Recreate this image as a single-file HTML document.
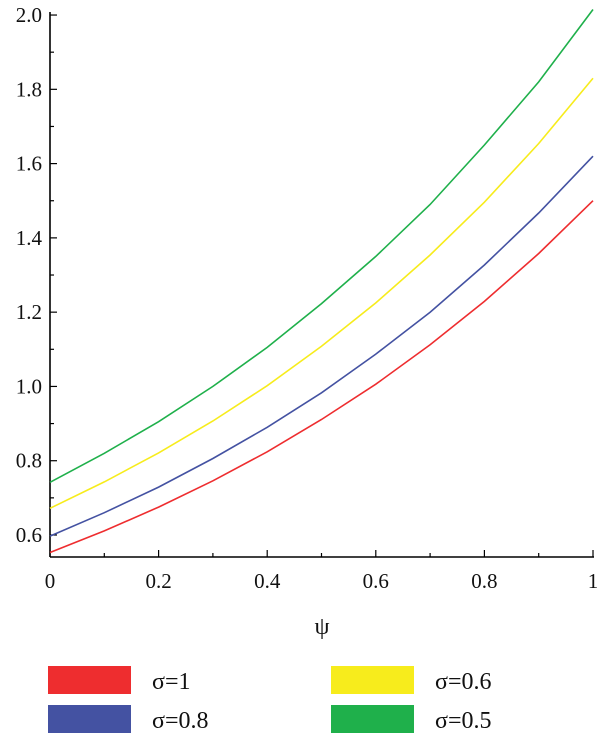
<!DOCTYPE html>
<html><head><meta charset="utf-8"><style>
body{margin:0;background:#fff}
svg text{font-family:"Liberation Serif",serif;fill:#111}
</style></head><body>
<svg id="chart" width="600" height="735"></svg>
<script>
const xValues=[0,0.1,0.2,0.3,0.4,0.5,0.6,0.7,0.8,0.9,1];
const sigma1=[0.553,0.611,0.675,0.746,0.824,0.911,1.006,1.112,1.229,1.358,1.5];
const sigma08=[0.597,0.66,0.729,0.806,0.89,0.983,1.087,1.2,1.327,1.467,1.62];
const sigma06=[0.672,0.743,0.821,0.907,1.002,1.108,1.225,1.354,1.496,1.654,1.83];
const sigma05=[0.742,0.82,0.905,1.0,1.105,1.223,1.35,1.49,1.65,1.82,2.015];
const xTicks=[0,0.2,0.4,0.6,0.8,1];
const xTickLabels=["0","0.2","0.4","0.6","0.8","1"];
const yTicks=[0.6,0.8,1.0,1.2,1.4,1.6,1.8,2.0];
const yTickLabels=["0.6","0.8","1.0","1.2","1.4","1.6","1.8","2.0"];
const seriesNames=["σ=1","σ=0.8","σ=0.6","σ=0.5"];

const NS="http://www.w3.org/2000/svg";
const svg=document.getElementById('chart');
const X=v=>50+v*543;
const Y=v=>535-(v-0.6)*371.4;
function mk(t,a){const e=document.createElementNS(NS,t);for(const k in a)e.setAttribute(k,a[k]);svg.appendChild(e);return e;}
const yAxis=mk('line',{x1:50,y1:12,x2:50,y2:557,stroke:'#000','stroke-width':1.6});


const xAxis=mk('line',{x1:50,y1:557,x2:594,y2:557,stroke:'#000','stroke-width':1.6});


for(let v=0;v<=1.0001;v+=0.1){const x=X(v);const major=Math.round(v*10)%2===0;
 mk('line',{x1:x,y1:557,x2:x,y2:major?550:553,stroke:'#000','stroke-width':1.2});}
for(let v=0.6;v<=2.0001;v+=0.1){const y=Y(v);const major=Math.round(v*10)%2===0;
 mk('line',{x1:50,y1:y,x2:major?57:54,y2:y,stroke:'#000','stroke-width':1.2});}
xTicks.forEach((v,i)=>{const t=mk('text',{x:X(v),y:588,'text-anchor':'middle','font-size':21});t.textContent=xTickLabels[i];
 
 });
yTicks.forEach((v,i)=>{const t=mk('text',{x:42,y:Y(v)+7,'text-anchor':'end','font-size':21});t.textContent=yTickLabels[i];
 
 });
const xt=mk('text',{x:322,y:634,'text-anchor':'middle','font-size':24});xt.textContent='ψ';


const all=[sigma1,sigma08,sigma06,sigma05];
const colors=['#ee2d2f','#4452a2','#f7ec1c','#1fb04b'];
all.forEach((s,i)=>{const d=s.map((v,j)=>(j?'L':'M')+X(xValues[j]).toFixed(1)+','+Y(v).toFixed(1)).join('');
 const p=mk('path',{d:d,fill:'none',stroke:colors[i],'stroke-width':1.6});
 
 });
const pos=[[48,666],[48,705],[331,666],[331,705]];
const order=[0,1,2,3];
[[0,0],[1,1],[2,2],[3,3]].forEach(([i])=>{const [x,y]=pos[i];
 const r=mk('rect',{x:x,y:y,width:83,height:28,fill:colors[i]});
 
 
 const t=mk('text',{x:x+104,y:y+23,'font-size':24});t.textContent=seriesNames[i];
 
 });
</script>
</body></html>
